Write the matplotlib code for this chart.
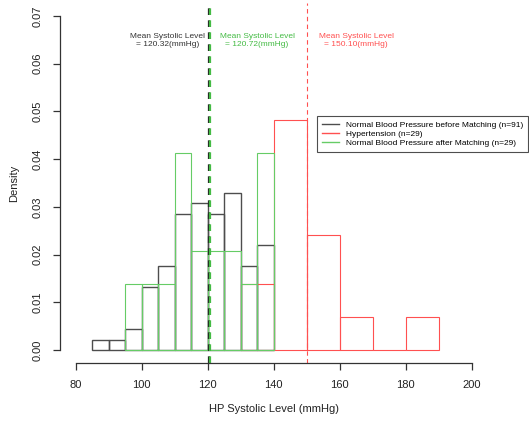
import numpy as np
import matplotlib
matplotlib.use("Agg")
import matplotlib.pyplot as plt

plt.rcParams['font.family'] = ['Liberation Sans', 'DejaVu Sans']

# counts per bin
before_edges = [85, 90, 95, 100, 105, 110, 115, 120, 125, 130, 135, 140]
before_counts = [1, 1, 2, 6, 8, 13, 14, 13, 15, 8, 10]
hyper_edges = [130, 140, 150, 160, 170, 180, 190]
hyper_counts = [4, 14, 7, 2, 0, 2]
after_edges = [95, 100, 105, 110, 115, 120, 125, 130, 135, 140]
after_counts = [2, 2, 2, 6, 3, 3, 3, 2, 6]

mean_before = 120.32
mean_hyper = 150.10
mean_after = 120.72

labels = ['Normal Blood Pressure before Matching (n=91)',
          'Hypertension (n=29)',
          'Normal Blood Pressure after Matching (n=29)']

c_black = '#4d4d4d'
c_red = '#ff5050'
c_green = '#66cc66'


def density_bars(ax, edges, counts, color, lw):
    edges = np.array(edges, dtype=float)
    counts = np.array(counts, dtype=float)
    w = np.diff(edges)
    dens = counts / (counts.sum() * w)
    ax.bar(edges[:-1], dens, width=w, align='edge', fill=False,
           edgecolor=color, linewidth=lw)


fig = plt.figure(figsize=(5.29, 4.24), dpi=100)
ax = fig.add_axes([0.1129, 0.1429, 0.8087, 0.851])

density_bars(ax, before_edges, before_counts, c_black, 1.0)
density_bars(ax, hyper_edges, hyper_counts, c_red, 0.8)
density_bars(ax, after_edges, after_counts, c_green, 0.8)

ax.axvline(mean_before, color='#222222', lw=1.6, linestyle=(0, (3, 2.4)))
ax.axvline(mean_after, color='#44bb44', lw=1.6, linestyle=(0, (3, 2.4)))
ax.axvline(mean_hyper, color=c_red, lw=0.8, linestyle=(0, (4, 3)))

ax.text(108.0, 0.0648, 'Mean Systolic Level\n= %.2f(mmHg)' % mean_before,
        ha='center', va='center', fontsize=6, color='#333333', linespacing=1.25)
ax.text(135.0, 0.0648, 'Mean Systolic Level\n= %.2f(mmHg)' % mean_after,
        ha='center', va='center', fontsize=6, color='#44bb44', linespacing=1.25)
ax.text(165.0, 0.0648, 'Mean Systolic Level\n= %.2f(mmHg)' % mean_hyper,
        ha='center', va='center', fontsize=6, color=c_red, linespacing=1.25)

ax.set_xlim(75.2, 204.8)
ax.set_ylim(-0.0028, 0.0728)
ax.set_xticks([80, 100, 120, 140, 160, 180, 200])
ax.set_yticks(np.arange(0, 0.071, 0.01))
ax.set_yticklabels(['%.2f' % v for v in np.arange(0, 0.071, 0.01)],
                   rotation=90, va='center')
for s in ['top', 'right']:
    ax.spines[s].set_visible(False)
ax.spines['bottom'].set_bounds(80, 200)
ax.spines['left'].set_bounds(0, 0.07)
for s in ['bottom', 'left']:
    ax.spines[s].set_color('#333333')
    ax.spines[s].set_linewidth(0.9)
ax.tick_params(direction='out', length=5, width=0.9, color='#333333',
               labelsize=8, labelcolor='#222222')
ax.tick_params(axis='x', pad=7)
ax.tick_params(axis='y', pad=7)
ax.set_xlabel('HP Systolic Level (mmHg)', fontsize=8, color='#222222', labelpad=10)
ax.set_ylabel('Density', fontsize=8, color='#222222', labelpad=10)

handles = [plt.Line2D([], [], color=c, lw=1.0) for c in [c_black, c_red, c_green]]
leg = ax.legend(handles, labels, loc='upper left',
                bbox_to_anchor=(313 / 529, 1 - 112 / 424),
                bbox_transform=fig.transFigure, fontsize=6, frameon=True,
                fancybox=False, edgecolor='#222222', handlelength=2.0,
                handletextpad=0.8, labelspacing=0.15, borderpad=0.6)
leg.get_frame().set_linewidth(0.8)
leg.set_clip_on(False)

fig.savefig('out.png', dpi=100)
